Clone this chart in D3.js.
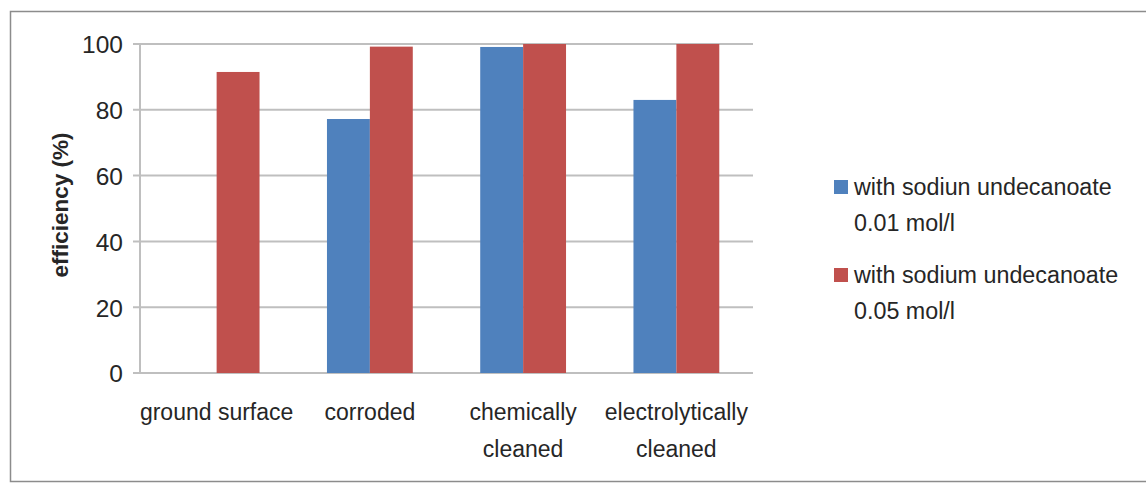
<!DOCTYPE html>
<html><head><meta charset="utf-8">
<script src="https://cdn.jsdelivr.net/npm/d3@7"></script>
<style>body{margin:0;background:#fff}svg{display:block}text{font-family:"Liberation Sans",Arial,sans-serif;fill:#262626}</style>
</head><body><svg id="c" width="1146" height="483"></svg>
<script>
const categories = ["ground surface", "corroded", "chemically cleaned", "electrolytically cleaned"];
const categoryLines = [["ground surface"], ["corroded"], ["chemically", "cleaned"], ["electrolytically", "cleaned"]];
const seriesNames = ["with sodiun undecanoate 0.01 mol/l", "with sodium undecanoate 0.05 mol/l"];
const legendLines = [["with sodiun undecanoate", "0.01 mol/l"], ["with sodium undecanoate", "0.05 mol/l"]];
const s001 = [null, 77.2, 99.1, 83.0];
const s005 = [91.5, 99.2, 100, 100];
const yTicks = [0, 20, 40, 60, 80, 100];
const colors = ["#4F81BD", "#C0504D"];

const svg = d3.select("#c");
// outer frame
svg.append("rect").attr("x", 10.5).attr("y", 11.5).attr("width", 1150).attr("height", 470)
  .attr("fill", "none").attr("stroke", "#8c8c8c").attr("stroke-width", 1.5);

const x0 = 140, x1 = 753, yTop = 44, yBot = 373;
const x = d3.scaleBand().domain(categories).range([x0, x1]).paddingInner(0.44).paddingOuter(0.22);
const xs = d3.scaleBand().domain([0, 1]).range([0, x.bandwidth()]);
const y = d3.scaleLinear().domain([0, 100]).range([yBot, yTop]);

// gridlines
const g = svg.append("g");
g.selectAll("line.grid").data(yTicks).join("line")
  .attr("x1", 133).attr("x2", x1).attr("y1", d => y(d)).attr("y2", d => y(d))
  .attr("stroke", "#bfbfbf").attr("stroke-width", 2);
// y axis line
g.append("line").attr("x1", x0).attr("x2", x0).attr("y1", yTop).attr("y2", yBot)
  .attr("stroke", "#bfbfbf").attr("stroke-width", 2);

// y axis labels via d3 axis
const yAxis = d3.axisLeft(y).tickValues(yTicks).tickSize(0).tickPadding(0);
const ya = svg.append("g").attr("transform", `translate(123,0)`).call(yAxis);
ya.select(".domain").remove();
ya.selectAll("text").attr("font-size", 24.5).attr("fill", "#262626")
  .style("font-family", '"Liberation Sans",Arial,sans-serif').attr("dy", "0.36em");

// bars
const series = [s001, s005];
series.forEach((vals, si) => {
  svg.append("g").selectAll("rect").data(vals.map((v, i) => ({v, c: categories[i]})).filter(d => d.v != null))
    .join("rect")
    .attr("x", d => x(d.c) + xs(si))
    .attr("width", xs.bandwidth())
    .attr("y", d => y(d.v))
    .attr("height", d => y(0) - y(d.v))
    .attr("fill", colors[si]);
});

// category labels
categories.forEach((c, i) => {
  const t = svg.append("text").attr("text-anchor", "middle").attr("font-size", 23)
    .attr("x", x(c) + x.bandwidth() / 2).attr("y", 420);
  categoryLines[i].forEach((ln, j) => {
    t.append("tspan").attr("x", x(c) + x.bandwidth() / 2).attr("dy", j ? 37 : 0).text(ln);
  });
});

// y title
svg.append("text").attr("transform", "translate(68,205) rotate(-90)")
  .attr("text-anchor", "middle").attr("font-size", 22.5).attr("font-weight", "bold")
  .attr("fill", "#000").text("efficiency (%)");

// legend
const legY = [195, 283];
seriesNames.forEach((n, i) => {
  svg.append("rect").attr("x", 834).attr("y", legY[i] - 15).attr("width", 14).attr("height", 14).attr("fill", colors[i]);
  const t = svg.append("text").attr("font-size", 23.3).attr("x", 854).attr("y", legY[i]);
  legendLines[i].forEach((ln, j) => t.append("tspan").attr("x", 854).attr("dy", j ? 36 : 0).text(ln));
});
</script></body></html>
